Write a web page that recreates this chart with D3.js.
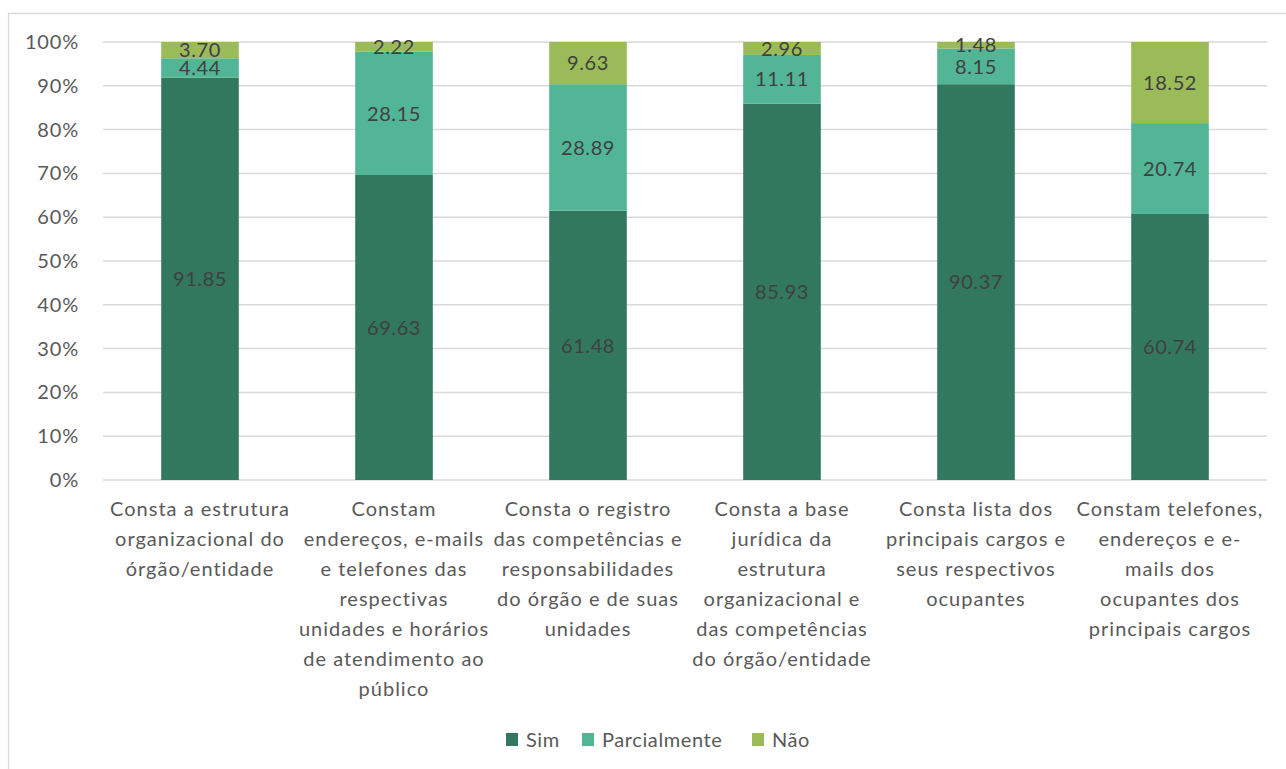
<!DOCTYPE html>
<html>
<head>
<meta charset="utf-8">
<script src="https://cdn.jsdelivr.net/npm/d3@7"></script>
<style>
  html, body { margin: 0; padding: 0; background: #fff; }
  svg { display: block; }
  text { font-family: Lato, "Open Sans", sans-serif; }
</style>
</head>
<body>
<svg id="chart" width="1286" height="769"></svg>
<script>
// ---- data ----
const categories = [
  ["Consta a estrutura", "organizacional do", "órgão/entidade"],
  ["Constam", "endereços, e-mails", "e telefones das", "respectivas", "unidades e horários", "de atendimento ao", "público"],
  ["Consta o registro", "das competências e", "responsabilidades", "do órgão e de suas", "unidades"],
  ["Consta a base", "jurídica da", "estrutura", "organizacional e", "das competências", "do órgão/entidade"],
  ["Consta lista dos", "principais cargos e", "seus respectivos", "ocupantes"],
  ["Constam telefones,", "endereços e e-", "mails dos", "ocupantes dos", "principais cargos"]
];
const seriesNames = ["Sim", "Parcialmente", "Não"];
const sim          = [91.85, 69.63, 61.48, 85.93, 90.37, 60.74];
const parcialmente = [4.44, 28.15, 28.89, 11.11, 8.15, 20.74];
const nao          = [3.70, 2.22, 9.63, 2.96, 1.48, 18.52];
const yTicks = [0, 10, 20, 30, 40, 50, 60, 70, 80, 90, 100];
const colors = ["#31785f", "#52b595", "#9bbb59"];

// ---- build table ----
const keys = ["sim", "parcialmente", "nao"];
const table = categories.map((c, i) => ({
  idx: i, sim: sim[i], parcialmente: parcialmente[i], nao: nao[i]
}));
const stacked = d3.stack().keys(keys)(table);

const svg = d3.select("#chart");

// chart border
svg.append("path")
  .attr("d", "M8.5,900 L8.5,13.5 L1300,13.5")
  .attr("fill", "none").attr("stroke", "#d9d9d9").attr("stroke-width", 1.3);

const x = d3.scaleBand()
  .domain(categories.map((c, i) => i))
  .range([103, 1267])
  .paddingInner(0.6)
  .paddingOuter(0.3);

const y = d3.scaleLinear().domain([0, 100]).range([480, 42]);

// gridlines
svg.append("g")
  .selectAll("line").data(yTicks).join("line")
  .attr("x1", 103).attr("x2", 1267)
  .attr("y1", d => y(d)).attr("y2", d => y(d))
  .attr("stroke", "#d9d9d9").attr("stroke-width", 1.5);

// y axis labels
const yAxis = d3.axisLeft(y).tickValues(yTicks).tickFormat(d => d + "%").tickSize(0).tickPadding(0);
const gy = svg.append("g").attr("transform", "translate(79,0)").call(yAxis);
gy.select(".domain").remove();
gy.selectAll("text")
  .attr("font-family", "Lato, sans-serif")
  .attr("font-size", 20)
  .attr("letter-spacing", 0.8)
  .attr("fill", "#595959");

// bars
const layers = svg.append("g").selectAll("g").data(stacked).join("g")
  .attr("fill", (d, i) => colors[i]);
layers.selectAll("rect").data(d => d).join("rect")
  .attr("x", d => x(d.data.idx))
  .attr("width", x.bandwidth())
  .attr("y", d => y(d[1]))
  .attr("height", d => y(d[0]) - y(d[1]));

// data labels
const labelG = svg.append("g");
stacked.forEach(layer => {
  layer.forEach(d => {
    labelG.append("text")
      .attr("x", x(d.data.idx) + x.bandwidth() / 2)
      .attr("y", (y(d[0]) + y(d[1])) / 2)
      .attr("dy", "0.36em")
      .attr("text-anchor", "middle")
      .attr("font-size", 20)
      .attr("letter-spacing", 0.6)
      .attr("fill", "#404040")
      .text((d[1] - d[0]).toFixed(2));
  });
});

// category labels
const catG = svg.append("g");
categories.forEach((lines, i) => {
  const t = catG.append("text")
    .attr("text-anchor", "middle")
    .attr("font-size", 20)
    .attr("letter-spacing", 1)
    .attr("fill", "#595959");
  lines.forEach((ln, j) => {
    t.append("tspan")
      .attr("x", x(i) + x.bandwidth() / 2)
      .attr("y", 516 + j * 30)
      .text(ln);
  });
});

// legend
const legendX = [506, 582, 752];
const lg = svg.append("g");
seriesNames.forEach((name, i) => {
  lg.append("rect")
    .attr("x", legendX[i]).attr("y", 733)
    .attr("width", 12).attr("height", 13)
    .attr("fill", colors[i]);
  lg.append("text")
    .attr("x", legendX[i] + 20).attr("y", 747)
    .attr("font-size", 20)
    .attr("letter-spacing", 0.6)
    .attr("fill", "#595959")
    .text(name);
});
</script>
</body>
</html>
